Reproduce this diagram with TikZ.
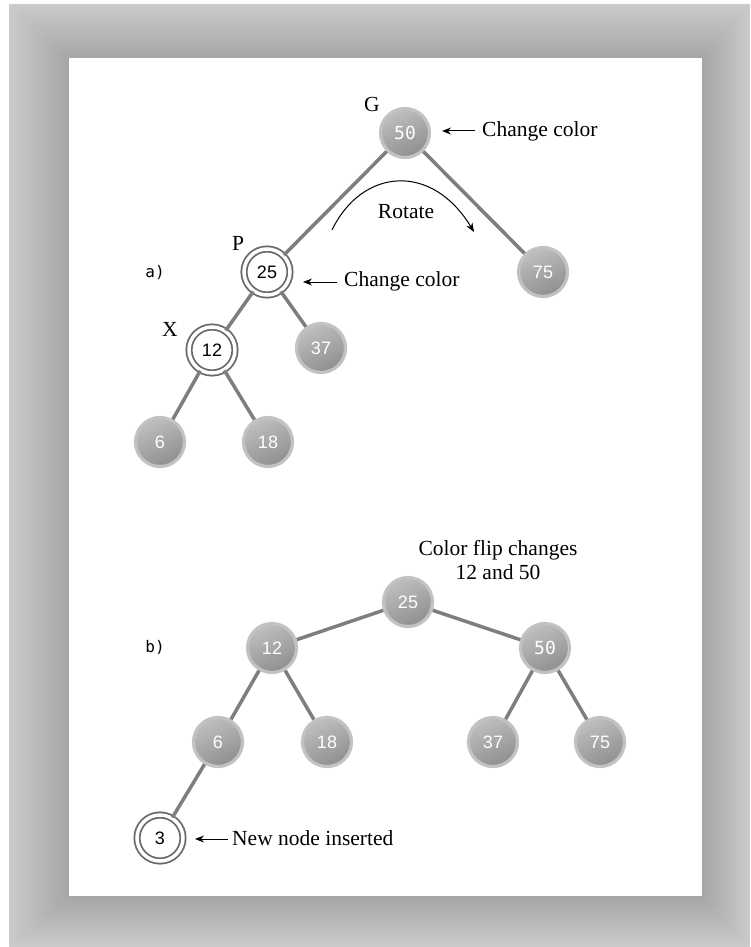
\documentclass[tikz,border=0pt]{standalone}
\usepackage{fontspec}
\setmainfont{Liberation Serif}
\newfontfamily\numfont{Liberation Sans}
\newfontfamily\monofont{DejaVu Sans Mono}
\usetikzlibrary{arrows.meta}
\definecolor{edgegray}{HTML}{7E7E7E}
\definecolor{ringgray}{HTML}{C2C2C2}
\definecolor{dblgray}{HTML}{6A6A6A}
\definecolor{frameout}{HTML}{CBCBCB}
\definecolor{framein}{HTML}{A6A6A6}
\tikzset{
  shadednode/.style={circle, minimum size=49pt, inner sep=0pt, draw=ringgray, line width=3.2pt,
    top color=gray!50, bottom color=gray!88, shading angle=25, text=white,
    font=\numfont\fontsize{18}{18}\selectfont},
  dblnode/.style={circle, minimum size=46pt, inner sep=0pt, draw=dblgray, line width=1.8pt,
    double=white, double distance=3.5pt, fill=white, text=black,
    font=\numfont\fontsize{18}{18}\selectfont},
  edge/.style={draw=edgegray, line width=3.5pt},
  lbl/.style={font=\fontsize{21.5}{24.5}\selectfont, inner sep=0pt},
  tag/.style={font=\monofont\fontsize{16}{16}\selectfont, inner sep=0pt},
  pointer/.style={-{Stealth[length=9pt,width=7pt]}, line width=1pt, black}
}
\begin{document}
\begin{tikzpicture}[x=1pt,y=-1pt]
\useasboundingbox (0,0) rectangle (750,947);
% frame
\shade[left color=frameout, right color=framein] (9,4) -- (69,58) -- (69,896) -- (9,947) -- cycle;
\shade[top color=frameout, bottom color=framein] (9,4) -- (750,4) -- (702,58) -- (69,58) -- cycle;
\shade[left color=framein, right color=frameout] (702,58) -- (750,4) -- (750,947) -- (702,896) -- cycle;
\shade[top color=framein, bottom color=frameout] (69,896) -- (702,896) -- (750,947) -- (9,947) -- cycle;
\fill[white] (69,58) rectangle (702,896);

% ---- part a
\node[shadednode] (aG) at (405,133) {\monofont 50};
\node[dblnode] (aP) at (267,272) {25};
\node[dblnode] (aX) at (212,350) {12};
\node[shadednode] (a37) at (321,348) {37};
\node[shadednode] (a75) at (543,272) {75};
\node[shadednode] (a6) at (160,442) {6};
\node[shadednode] (a18) at (268,442) {18};
\draw[edge] (aG) -- (aP);
\draw[edge] (aG) -- (a75);
\draw[edge] (aP) -- (aX);
\draw[edge] (aP) -- (a37);
\draw[edge] (aX) -- (a6);
\draw[edge] (aX) -- (a18);

\node[lbl] (lG) at (372,104) {G};
\node[lbl] (lP) at (238,243) {P};
\node[lbl] (lX) at (170,329) {X};
\node[tag] (la) at (155,272) {a)};

\node[lbl, anchor=west] (cc1) at (482,131) {Change color};
\coordinate (cc1s) at (475,131);
\coordinate (cc1e) at (442,131);
\draw[pointer] (cc1s) -- (cc1e);

\node[lbl, anchor=west] (cc2) at (344,281) {Change color};
\coordinate (cc2s) at (337,282);
\coordinate (cc2e) at (303,282);
\draw[pointer] (cc2s) -- (cc2e);

\node[lbl] (rot) at (406,212) {Rotate};
\coordinate (r1) at (332,230);
\coordinate (r2) at (474,232);
\draw[pointer] (r1) .. controls (362,168) and (432,162) .. (r2);

% ---- part b
\node[shadednode] (b25) at (408,602) {25};
\node[shadednode] (b12) at (272,648) {12};
\node[shadednode] (b50) at (545,648) {\monofont 50};
\node[shadednode] (b6) at (218,742) {6};
\node[shadednode] (b18) at (327,742) {18};
\node[shadednode] (b37) at (493,742) {37};
\node[shadednode] (b75) at (600,742) {75};
\node[dblnode] (b3) at (160,838) {3};
\draw[edge] (b25) -- (b12);
\draw[edge] (b25) -- (b50);
\draw[edge] (b12) -- (b6);
\draw[edge] (b12) -- (b18);
\draw[edge] (b50) -- (b37);
\draw[edge] (b50) -- (b75);
\draw[edge] (b6) -- (b3);

\node[tag] (lb) at (155,647) {b)};
\node[lbl, align=center] (flip) at (498,560) {Color flip changes\\12 and 50};

\node[lbl, anchor=west] (nn) at (232,838) {New node inserted};
\coordinate (nns) at (228,839);
\coordinate (nne) at (195,839);
\draw[pointer] (nns) -- (nne);
\end{tikzpicture}
\end{document}
